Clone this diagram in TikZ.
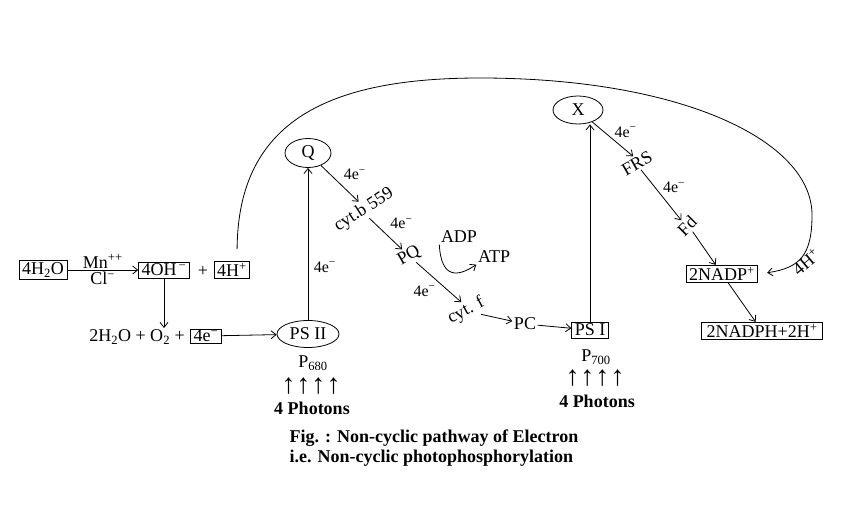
\documentclass[tikz,border=0pt]{standalone}
\usepackage{fontspec}
\setmainfont{Liberation Serif}
\usetikzlibrary{arrows.meta,shapes.geometric,positioning,calc}
\newcommand{\lbl}{\fontsize{18}{20}\selectfont}
\newcommand{\sml}{\fontsize{16}{18}\selectfont}
\newcommand{\up}{↑\hspace{1pt}↑\hspace{1pt}↑\hspace{1pt}↑}

\begin{document}
\begin{tikzpicture}[x=1pt, y=-1pt,
    every node/.style={font=\lbl, inner sep=1.5pt},
    box/.style={draw, line width=0.8pt, inner xsep=3pt, inner ysep=2pt},
    oval/.style={draw, ellipse, line width=0.8pt, inner sep=0pt},
    arr/.style={-{Straight Barb[length=5pt,width=8pt]}, line width=0.8pt},
    lab/.style={font=\sml}
]
\useasboundingbox (0,0) rectangle (848,516);

\node[box] (h2o) at (43,270) {4H\textsubscript{2}O};
\node[box] (oh) at (164,270) {4OH\textsuperscript{\,−}};
\node (plus) at (203,271) {+};
\node[box] (hp) at (232,270) {4H\textsuperscript{+}};
\node (wat) at (137,337) {2H\textsubscript{2}O + O\textsubscript{2} +};
\node[box, inner ysep=1pt] (e4) at (206,336) {4e\textsuperscript{−}};

\node[oval, minimum width=62, minimum height=27] (ps2) at (308,334) {PS II};
\node (p680) at (313,363) {P\textsubscript{680}};
\node[font=\fontsize{28}{28}\selectfont] (ph2) at (311,386) {\up};
\node[font=\lbl\bfseries] (ph2t) at (312,408) {4 Photons};
\node[oval, minimum width=46, minimum height=29] (q) at (308,153) {Q};

\node[rotate=33] (cytb) at (364,210) {cyt.b 559};
\node[rotate=30] (pq) at (409,256) {PQ};
\node (adp) at (459,237) {ADP};
\node (atp) at (494,257) {ATP};
\node[rotate=28] (cytf) at (466,311) {cyt. f};
\node (pc) at (525,324) {PC};
\node[box] (ps1) at (590,330) {PS I};
\node (p700) at (596,357) {P\textsubscript{700}};
\node[font=\fontsize{28}{28}\selectfont] (ph1) at (595,378) {\up};
\node[font=\lbl\bfseries] (ph1t) at (597,401) {4 Photons};

\node[oval, minimum width=50, minimum height=28] (x) at (578,110) {X};
\node[rotate=30] (frs) at (637,163) {FRS};
\node[rotate=45] (fd) at (687,226) {Fd};
\node[box] (nadp) at (722,274) {2NADP\textsuperscript{+}};
\node[box, inner xsep=5pt] (nadph) at (762,331) {2NADPH+2H\textsuperscript{+}};
\node[rotate=40] (h4) at (806,262) {4H\textsuperscript{+}};

\node[font=\lbl\bfseries, align=left, anchor=west] (cap) at (288,448)
  {Fig. : Non-cyclic pathway of Electron\\i.e. Non-cyclic photophosphorylation};

\draw[arr] (h2o) -- node[above]{Mn\textsuperscript{++}} node[below]{Cl\textsuperscript{−}} (oh);
\draw[arr] (oh) -- (oh |- wat.north);
\draw[arr] (e4) -- (ps2);
\draw[arr] (ps2) -- node[pos=0.35, right=4pt, lab]{4e\textsuperscript{−}} (q);
\draw[arr] (q) -- node[above right=3pt, lab]{4e\textsuperscript{−}} (cytb.north);
\draw[arr] (cytb.south) -- node[above right=4pt, lab]{4e\textsuperscript{−}} (pq);
\draw[arr] (pq) -- node[below left=2pt, lab]{4e\textsuperscript{−}} (cytf.north);
\draw[arr] (adp.south west) .. controls +(2,35) and +(-18,12) .. (atp.south west);
\draw[arr] (cytf) -- (pc);
\draw[arr] (pc) -- (ps1);
\draw[arr] (ps1.north) -- (ps1.north |- x.south);
\draw[arr] (x) -- node[above right, lab]{4e\textsuperscript{−}} (frs.north);
\draw[arr] (frs.south) -- node[above right, lab]{4e\textsuperscript{−}} (fd.north);
\draw[arr] (fd.south) -- (nadp);
\draw[arr] (nadp) -- (nadph);
\draw[arr, shorten <=12pt, shorten >=9pt] ([xshift=5pt]hp.north)
  .. controls (238,120) and (330,78) .. (480,78)
  .. controls (680,78) and (812,140) .. (812,215)
  .. controls (812,255) and (800,268) .. (nadp.east);
\end{tikzpicture}
\end{document}
